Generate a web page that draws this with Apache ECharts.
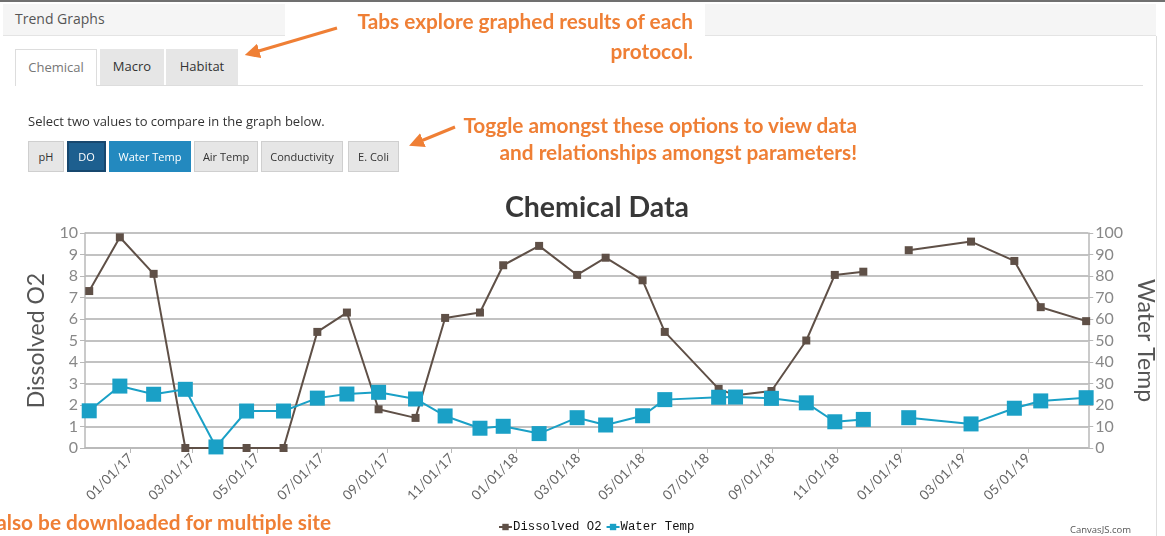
<!DOCTYPE html>
<html>
<head>
<meta charset="utf-8">
<script src="https://cdn.jsdelivr.net/npm/echarts@6/dist/echarts.min.js"></script>
<style>
  html, body { margin: 0; padding: 0; background: #fff; }
  body { width: 1165px; height: 536px; position: relative; overflow: hidden; font-family: "Open Sans", sans-serif; }
  #chart { position: absolute; left: 0; top: 0; width: 1165px; height: 536px; }
  .ui { position: absolute; z-index: 2; }
  .topline { left: 0; top: 0; width: 1165px; height: 2px; background: #707070; }
  .header { left: 3px; top: 4px; width: 1153px; height: 31px; background: #f5f5f5; border-bottom: 1px solid #e4e4e4; }
  .header span { position: absolute; left: 12px; top: 5px; font-size: 14px; color: #555; }
  .edge { left: 1156px; top: 36px; width: 1px; height: 500px; background: #dedede; }
  .tabline { left: 15px; top: 85px; width: 1128px; height: 1px; background: #ddd; }
  .tab { top: 49px; height: 36px; box-sizing: border-box; font-size: 13px; line-height: 35px; text-align: center; color: #333; background: #e6e6e6; }
  .tab.active { background: #fff; border: 1px solid #ddd; border-bottom: none; color: #777; height: 37px; }
  .hint { left: 28px; top: 112px; font-size: 13px; color: #333; }
  .btn { top: 141px; height: 31px; box-sizing: border-box; font-size: 11px; line-height: 29px; text-align: center; color: #333; background: #e6e6e6; border: 1px solid #cfcfcf; }
  .btn.on { background: #2389bf; border-color: #2389bf; color: #fff; }
  .btn.pressed { background: #1d5f8f; border: 2px solid #17476e; line-height: 27px; color: #fff; }
  .note { font-family: Lato, sans-serif; font-weight: 700; color: #ef7f35; white-space: nowrap; text-align: right; font-size: 20.8px; }
  .notebox { left: 285px; top: 3px; width: 420px; height: 33px; background: #fff; }
  .credit { left: 1070px; top: 523px; font-size: 9.5px; color: #555; }
  svg.arrows { position: absolute; left: 0; top: 0; z-index: 3; }
</style>
</head>
<body>
<div id="chart"></div>

<div class="ui topline"></div>
<div class="ui header"><span>Trend Graphs</span></div>
<div class="ui edge"></div>
<div class="ui notebox"></div>

<div class="ui tabline"></div>
<div class="ui tab active" style="left:15px;width:82px;">Chemical</div>
<div class="ui tab" style="left:100px;width:64px;">Macro</div>
<div class="ui tab" style="left:166px;width:72px;">Habitat</div>

<div class="ui hint">Select two values to compare in the graph below.</div>
<div class="ui btn" style="left:28px;width:36px;">pH</div>
<div class="ui btn pressed" style="left:67px;width:39px;">DO</div>
<div class="ui btn on" style="left:109px;width:82px;">Water Temp</div>
<div class="ui btn" style="left:194px;width:64px;">Air Temp</div>
<div class="ui btn" style="left:261px;width:82px;">Conductivity</div>
<div class="ui btn" style="left:348px;width:51px;">E. Coli</div>

<div class="ui note" style="right:472px;top:6px;line-height:30px;">Tabs explore graphed results of each<br>protocol.</div>
<div class="ui note" style="right:308px;top:111px;line-height:27px;">Toggle amongst these options to view data<br>and relationships amongst parameters!</div>
<div class="ui note" style="right:834px;top:508px;line-height:27px;">also be downloaded for multiple site</div>
<div class="ui credit">CanvasJS.com</div>

<svg class="arrows" width="1165" height="536">
  <defs>
    <marker id="head" markerWidth="5" markerHeight="5" refX="2.5" refY="2.5" orient="auto" markerUnits="strokeWidth">
      <path d="M0,0 L5,2.5 L0,5 Z" fill="#ef7f35"/>
    </marker>
  </defs>
  <line x1="337" y1="28" x2="252" y2="53" stroke="#ef7f35" stroke-width="3" marker-end="url(#head)"/>
  <line x1="455" y1="127" x2="416" y2="143" stroke="#ef7f35" stroke-width="3" marker-end="url(#head)"/>
</svg>

<script>
// Sampling dates and readings
const sampleDates = [
  '2016-11-23', '2016-12-22', '2017-01-23', '2017-02-22', '2017-03-23', '2017-04-21',
  '2017-05-26', '2017-06-27', '2017-07-25', '2017-08-24', '2017-09-28', '2017-10-26',
  '2017-11-28', '2017-12-20', '2018-01-23', '2018-02-28', '2018-03-27', '2018-05-01',
  '2018-05-22', '2018-07-12', '2018-07-28', '2018-08-31', '2018-10-03', '2018-10-30',
  '2018-11-26', '2018-12-18', '2019-01-08', '2019-03-08', '2019-04-18', '2019-05-13',
  '2019-06-25'
];
const dissolvedO2 = [
  7.3, 9.8, 8.1, 0, 0, 0,
  0, 5.4, 6.3, 1.8, 1.4, 6.05,
  6.3, 8.5, 9.4, 8.05, 8.85, 7.8,
  5.4, 2.75, 2.45, 2.65, 5.0, 8.05,
  8.2, null, 9.2, 9.6, 8.7, 6.55,
  5.9
];
const waterTemp = [
  17.3, 28.8, 25.0, 27.3, 0.5, 17.2,
  17.2, 23.2, 25.1, 25.9, 22.8, 14.9,
  9.2, 10.1, 6.7, 14.1, 10.7, 15.0,
  22.5, 23.6, 23.7, 23.1, 21.0, 12.2,
  13.3, null, 14.1, 11.2, 18.5, 21.9,
  23.4
];
// Date axis range and labelled ticks
const axisStart = '2016-11-19';
const axisEnd = '2019-06-27';
const tickDates = [
  '2017-01-01', '2017-03-01', '2017-05-01', '2017-07-01', '2017-09-01', '2017-11-01',
  '2018-01-01', '2018-03-01', '2018-05-01', '2018-07-01', '2018-09-01', '2018-11-01',
  '2019-01-01', '2019-03-01', '2019-05-01'
];

function toTime(s) {
  const p = s.split('-');
  return new Date(+p[0], +p[1] - 1, +p[2]).getTime();
}
function pad(n) { return (n < 10 ? '0' : '') + n; }
function fmtDate(v) {
  const d = new Date(v);
  return pad(d.getMonth() + 1) + '/' + pad(d.getDate()) + '/' + pad(d.getFullYear() % 100);
}
function pairs(values) {
  return sampleDates.map((d, i) => [toTime(d), values[i] == null ? '-' : values[i]]);
}

const tickValues = tickDates.map(toTime);
const chartFont = 'Lato, "Open Sans", sans-serif';
const gridColor = '#c2c2c2';
const axisColor = '#b8b8b8';
const brown = '#5f5047';
const blue = '#1aa0c6';

const chart = echarts.init(document.getElementById('chart'), null, { renderer: 'canvas' });
chart.setOption({
  animation: false,
  title: {
    text: 'Chemical Data',
    left: 592, top: 188, textAlign: 'center',
    textStyle: { fontFamily: chartFont, fontWeight: 'bold', fontSize: 28.5, color: '#383838' }
  },
  legend: {
    left: 493, top: 516,
    itemWidth: 13, itemHeight: 8, itemGap: 4,
    textStyle: { fontFamily: '"Liberation Mono", "DejaVu Sans Mono", monospace', fontSize: 12.3, color: '#111', padding: [0, 0, 0, -4] }
  },
  grid: { left: 85, right: 75, top: 233, bottom: 88 },
  xAxis: {
    // sample timestamps on a linear scale, labelled at the first of every other month
    type: 'value',
    min: toTime(axisStart), max: toTime(axisEnd),
    axisLine: { lineStyle: { color: axisColor, width: 1.5 } },
    axisTick: { show: true, customValues: tickValues, length: 5, lineStyle: { color: axisColor } },
    axisLabel: {
      customValues: tickValues, rotate: 45, margin: 8,
      formatter: fmtDate, color: '#666', fontSize: 13.5, fontFamily: chartFont
    },
    splitLine: { show: false }
  },
  yAxis: [
    {
      type: 'value', min: 0, max: 10, interval: 1,
      name: 'Dissolved O2', nameLocation: 'middle', nameRotate: 90, nameGap: 34,
      nameTextStyle: { fontFamily: chartFont, fontSize: 23, color: '#555' },
      axisLine: { show: true, lineStyle: { color: axisColor, width: 1.5 } },
      axisTick: { show: true, length: 5, lineStyle: { color: axisColor } },
      axisLabel: { color: '#888', fontSize: 16, fontFamily: chartFont, margin: 7 },
      splitLine: { lineStyle: { color: gridColor, width: 2 } }
    },
    {
      type: 'value', min: 0, max: 100, interval: 10, position: 'right',
      name: 'Water Temp', nameLocation: 'middle', nameRotate: -90, nameGap: 40,
      nameTextStyle: { fontFamily: chartFont, fontSize: 23, color: '#555' },
      axisLine: { show: true, lineStyle: { color: axisColor, width: 1.5 } },
      axisTick: { show: true, length: 5, lineStyle: { color: axisColor } },
      axisLabel: { color: '#888', fontSize: 16, fontFamily: chartFont, margin: 7 },
      splitLine: { show: false }
    }
  ],
  series: [
    {
      name: 'Dissolved O2', type: 'line', yAxisIndex: 0,
      data: pairs(dissolvedO2),
      symbol: 'rect', symbolSize: 8, showAllSymbol: true, connectNulls: false,
      lineStyle: { color: brown, width: 2 },
      itemStyle: { color: brown }
    },
    {
      name: 'Water Temp', type: 'line', yAxisIndex: 1,
      data: pairs(waterTemp),
      symbol: 'rect', symbolSize: 15, showAllSymbol: true, connectNulls: false,
      lineStyle: { color: blue, width: 2 },
      itemStyle: { color: blue }
    }
  ]
});
</script>
</body>
</html>
